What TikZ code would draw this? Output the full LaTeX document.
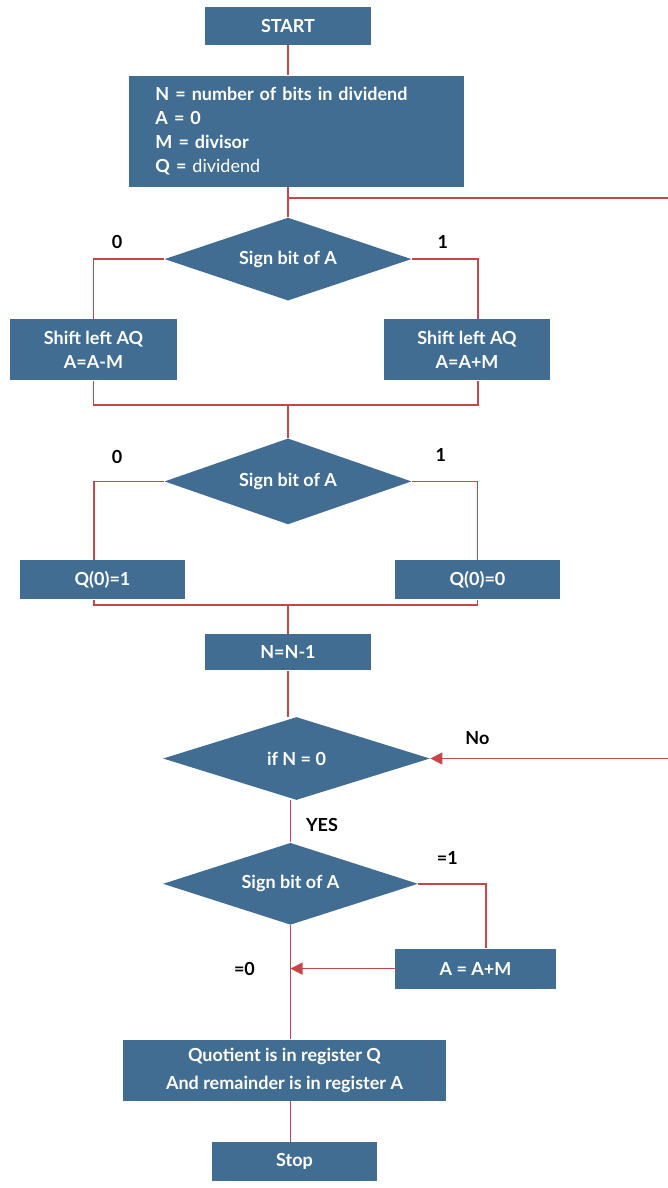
\documentclass[tikz,border=0pt]{standalone}
\usepackage{fontspec}
\setmainfont{Lato}
\usetikzlibrary{positioning,arrows.meta,shapes.geometric,calc}

\definecolor{boxblue}{RGB}{65,109,147}
\definecolor{flowred}{RGB}{200,70,72}

\begin{document}
\begin{tikzpicture}[
    font=\fontsize{9}{12}\selectfont\bfseries,
    proc/.style={rectangle, fill=boxblue, text=white, align=center, inner sep=2pt},
    test/.style={diamond, aspect=3, fill=boxblue, text=white, inner sep=0pt},
    lbl/.style={text=black, inner sep=1pt},
    flow/.style={draw=flowred, line width=0.8pt},
    arr/.style={flow, -{Triangle[length=6pt, width=6pt]}}
  ]

  % ========= page frame =========
  \useasboundingbox (-144pt,13pt) rectangle (190pt,-581pt);
  \coordinate (rt) at (192pt,0);

  % ========= set-up =========
  \node[proc, minimum width=82.5pt, minimum height=19pt] (start) {START};
  \node[proc, below=15pt of start, xshift=4.25pt, minimum width=167.5pt,
        minimum height=55.5pt, align=left, text width=141pt] (init)
    {N = number of bits in dividend\\
     A = 0\\
     M = divisor\\
     Q = {\mdseries dividend}};

  % ========= first sign test =========
  \node[test, below=15pt of init, xshift=-4.25pt, minimum width=123.5pt,
        minimum height=41.5pt] (sa1) {Sign bit of A};
  \node[proc, below=9pt of sa1, xshift=-97.25pt, minimum width=83.5pt,
        minimum height=30.5pt] (shl) {Shift left AQ\\ A=A-M};
  \node[proc, below=9pt of sa1, xshift=89.5pt, minimum width=83pt,
        minimum height=30.5pt] (shr) {Shift left AQ\\ A=A+M};

  % ========= second sign test =========
  \node[test, below=68.5pt of sa1, minimum width=123.5pt,
        minimum height=43pt] (sa2) {Sign bit of A};
  \node[proc, below=17.5pt of sa2, xshift=-92.75pt, minimum width=82.5pt,
        minimum height=19.5pt] (q1) {Q(0)=1};
  \node[proc, below=17.5pt of sa2, xshift=94.75pt, minimum width=82.5pt,
        minimum height=19.5pt] (q0) {Q(0)=0};

  % ========= counter =========
  \node[proc, below=54.5pt of sa2, minimum width=82.5pt,
        minimum height=18pt] (decn) {N=N-1};
  \node[test, below=23pt of decn, xshift=4.25pt, minimum width=133.5pt,
        minimum height=41.5pt] (ifn) {if N = 0};

  % ========= restore and result =========
  \node[test, below=21pt of ifn, xshift=-3pt, minimum width=127.5pt,
        minimum height=41pt] (sa3) {Sign bit of A};
  \node[proc, below=11.5pt of sa3, xshift=92.5pt, minimum width=80.5pt,
        minimum height=20pt] (add) {A = A+M};
  \node[proc, below=57pt of sa3, xshift=-3pt, minimum width=161.5pt,
        minimum height=30.5pt] (res)
    {Quotient is in register Q\\[2pt] And remainder is in register A};
  \node[proc, below=20.5pt of res, xshift=5pt, minimum width=82.5pt,
        minimum height=19.5pt] (stop) {Stop};

  % ========= connectors =========
  \draw[flow] (start) -- (start |- init.north);
  \draw[flow] (sa1.north |- init.south) -- (sa1.north);
  \coordinate (j0) at ($(sa1.north)+(0,9.5pt)$);
  \draw[arr] (j0) -- (j0 -| rt) |- (ifn.east);

  \draw[flow] (sa1.west) -| (shl.north);
  \draw[flow] (sa1.east) -| ([xshift=5.5pt]shr.north);
  \coordinate (j1) at ($(sa2.north)+(0,16.5pt)$);
  \draw[flow] (shl.south) |- (j1) -| ([xshift=5.5pt]shr.south);
  \draw[flow] (j1) -- (sa2.north);

  \draw[flow] (sa2.west) -| ([xshift=-4.25pt]q1.north);
  \draw[flow] (sa2.east) -| (q0.north);
  \coordinate (j2) at ($(decn.north)+(0,14.5pt)$);
  \draw[flow] ([xshift=-4.25pt]q1.south) |- (j2) -| (q0.south);
  \draw[flow] (j2) -- (decn.north);

  \draw[flow] (decn.south) -- (decn.south |- ifn.north);
  \draw[flow] (sa3.north |- ifn.south) -- (sa3.north);
  \draw[flow] (sa3.east) -| ([xshift=5.25pt]add.north);
  \draw[arr] (add.west) -- (add.west -| sa3.south);
  \draw[flow] (sa3.south) -- (sa3.south |- res.north);
  \draw[flow] (sa3.south |- res.south) -- (sa3.south |- stop.north);

  % ========= branch labels =========
  \node[lbl] (l0a) at ($(sa1.west)+(-23.5pt,8.75pt)$) {0};
  \node[lbl] (l1a) at ($(sa1.east)+(15.5pt,8.75pt)$) {1};
  \node[lbl] (l0b) at ($(sa2.west)+(-23.5pt,12pt)$) {0};
  \node[lbl] (l1b) at ($(sa2.east)+(14.5pt,13pt)$) {1};
  \node[lbl] (lno) at ($(ifn.east)+(23.5pt,10.25pt)$) {No};
  \node[lbl] (lyes) at ($(ifn.south)+(12.75pt,-12.5pt)$) {YES};
  \node[lbl] (leq1) at ($(sa3.east)+(14.5pt,13pt)$) {=1};
  \node[lbl] (leq0) at ($(add.west -| sa3.south)+(-23pt,0)$) {=0};

\end{tikzpicture}
\end{document}
